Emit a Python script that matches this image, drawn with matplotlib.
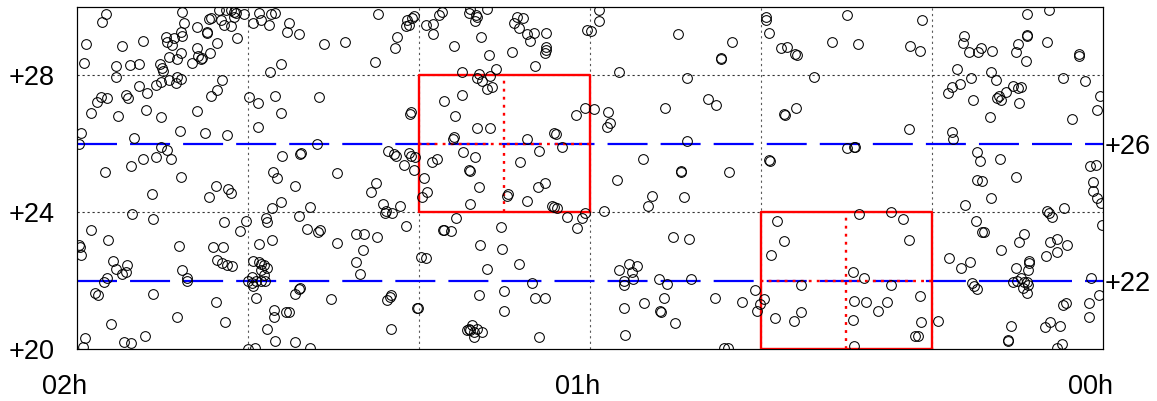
import matplotlib
matplotlib.use('Agg')
import matplotlib.pyplot as plt
import matplotlib.transforms as mtransforms
import numpy as np

## RA in degrees (30 = 02h, 0 = 00h), Dec in degrees
## star positions in strips from left to right
ra_a = [29.15, 29.25, 26.91, 26.86, 29.74, 28.67, 28.05, 27.40, 27.35, 27.16, 27.21, 26.96, 26.91,
        29.80, 28.86, 28.86, 28.44, 28.18, 27.57, 27.50, 27.47, 27.30, 27.06, 26.96, 26.64, 26.47,
        26.46, 26.38, 26.33, 26.18, 26.20, 26.10, 26.47, 26.13, 26.08, 25.89, 25.84, 25.65, 25.50,
        25.40, 25.35, 25.11, 24.84, 24.67, 24.62, 24.38, 24.33, 24.19, 25.77, 25.70, 25.50, 25.40,
        25.31, 23.80, 23.85, 23.51, 22.78, 24.02, 24.35, 25.76, 25.89, 26.07, 28.18, 27.94, 27.69,
        27.55, 27.30, 27.08, 26.96, 27.11, 28.57, 28.50, 29.10, 29.30, 29.40, 29.59, 28.79, 27.96,
        27.53, 26.49, 24.95, 24.70, 24.19, 24.04, 22.92, 29.86, 29.93, 28.32, 26.98, 26.26, 25.62,
        27.53, 27.35, 27.25, 28.05, 27.69, 28.42, 24.70, 22.97, 23.99, 23.48, 23.45, 29.18, 26.96,
        24.26, 24.14]
dec_a = [29.80, 29.57, 29.86, 29.52, 28.91, 28.87, 29.01, 29.13, 28.99, 29.08, 28.89, 29.28, 29.15,
         28.37, 28.28, 27.96, 28.29, 28.32, 28.32, 28.21, 28.13, 28.53, 28.47, 28.65, 28.37, 28.79,
         28.57, 28.47, 28.50, 29.28, 29.23, 28.65, 29.43, 29.64, 29.67, 28.96, 29.91, 29.91, 29.91,
         29.86, 29.83, 29.80, 29.54, 29.83, 29.62, 29.47, 29.80, 29.82, 29.62, 29.47, 29.44, 29.70,
         29.09, 29.54, 29.28, 29.20, 28.92, 28.32, 28.11, 27.87, 27.57, 27.41, 27.69, 27.50, 27.72,
         27.82, 27.87, 27.94, 27.89, 27.77, 27.43, 27.33, 27.33, 27.36, 27.23, 26.89, 26.81, 26.99,
         26.77, 26.95, 27.38, 27.20, 27.41, 26.89, 27.36, 26.31, 25.99, 26.16, 26.37, 26.31, 26.26,
         25.92, 25.82, 25.55, 25.56, 25.60, 25.36, 26.50, 25.99, 25.64, 25.70, 25.72, 25.17, 25.02,
         25.19, 24.99]

ra_b = [25.92, 25.58, 25.48, 26.13, 27.79, 23.62, 24.28, 24.02, 23.17, 23.50, 23.28, 22.95, 22.89,
        28.39, 27.76, 29.57, 29.09, 29.93, 29.86, 29.90, 28.93, 28.86, 28.67, 28.52, 28.57, 29.12,
        29.20, 29.47, 29.38, 28.99, 29.77, 29.83, 28.62, 28.40, 28.01, 27.76, 27.01, 26.91, 26.77,
        26.79, 27.06, 26.01, 25.72, 25.70, 25.24, 25.04, 24.48, 24.45, 24.30, 24.67, 25.91, 25.74,
        25.60, 25.45, 24.84, 24.67, 24.60, 24.53, 24.43, 24.60, 24.53, 24.99, 24.89, 24.84, 24.77,
        24.62, 24.50, 24.87, 24.77, 25.94, 25.67, 24.22, 24.22, 23.87, 23.80, 24.43, 24.19, 24.99,
        24.80, 23.62, 23.18, 23.63, 23.46, 23.50, 22.56]
dec_b = [24.78, 24.68, 24.55, 24.45, 24.52, 24.78, 24.11, 24.29, 24.16, 23.90, 23.51, 23.43, 23.48,
         23.94, 23.80, 23.48, 23.19, 23.04, 22.75, 22.98, 22.57, 22.34, 22.18, 22.46, 22.26, 22.09,
         21.95, 21.63, 21.58, 20.72, 20.31, 20.07, 20.21, 20.17, 20.38, 21.60, 23.01, 22.31, 22.09,
         21.99, 20.95, 22.97, 22.97, 23.72, 23.45, 23.74, 23.82, 23.72, 23.19, 23.06, 22.60, 22.50,
         22.46, 22.44, 22.57, 22.53, 22.48, 22.46, 22.38, 22.31, 22.17, 21.99, 21.92, 21.84, 21.99,
         21.99, 21.99, 22.11, 21.50, 21.38, 20.80, 21.14, 20.95, 21.07, 21.09, 20.58, 20.24, 20.00,
         20.04, 20.21, 20.04, 21.60, 21.77, 21.75, 21.45]

ra_c = [22.39, 22.17, 21.20, 21.29, 20.34, 20.29, 20.36, 20.15, 20.19, 20.65, 20.70, 19.80, 19.58,
        19.58, 19.42, 19.32, 18.98, 18.54, 18.49, 18.34, 18.37, 18.30, 18.00, 18.18, 17.96, 18.75,
        18.25, 18.30, 18.15, 17.91, 17.73, 17.86, 18.00, 17.27, 17.13, 17.22, 16.95, 17.08, 16.85,
        16.74, 16.62, 16.27, 16.27, 16.27, 16.30, 16.59, 15.08, 19.25, 18.75, 20.24, 20.26, 18.95,
        18.30, 17.93, 18.98, 19.00, 18.71, 18.37, 18.54, 18.49, 19.61, 19.48, 20.90, 20.73, 20.68,
        20.44, 20.29, 20.24, 20.10, 20.15, 16.85, 16.49, 17.03, 16.04, 15.98, 15.81, 15.39, 15.15]
dec_c = [25.14, 28.98, 29.79, 28.39, 29.62, 29.47, 29.44, 29.74, 29.67, 29.13, 28.81, 29.47, 29.50,
         29.20, 29.77, 29.86, 28.86, 29.82, 29.93, 29.77, 29.60, 29.72, 29.93, 29.13, 28.60, 28.11,
         28.04, 27.92, 27.85, 27.98, 28.19, 27.65, 27.59, 28.67, 29.70, 29.52, 29.67, 29.38, 29.21,
         29.02, 29.25, 29.25, 28.84, 28.74, 28.65, 28.28, 29.33, 27.26, 27.43, 26.94, 26.86, 26.81,
         26.47, 26.45, 26.21, 26.13, 25.75, 25.60, 25.23, 25.21, 25.48, 25.55, 25.80, 25.70, 25.64,
         25.38, 25.72, 25.64, 25.62, 25.24, 26.13, 25.80, 25.48, 26.33, 26.29, 25.90, 26.84, 27.04]

ra_d = [19.85, 18.25, 17.42, 17.40, 16.85, 16.52, 16.30, 19.76, 19.90, 18.51, 21.24, 21.39, 21.04,
        20.97, 20.78, 21.00, 20.55, 20.36, 18.90, 19.27, 19.30, 19.06, 17.59, 18.20, 17.58, 18.00,
        17.06, 16.11, 16.04, 15.96, 15.67, 15.37, 15.23, 15.13, 22.39, 21.85, 21.61, 21.22, 21.63,
        21.85, 21.72, 19.95, 19.80, 20.94, 20.83, 20.80, 20.05, 20.03, 20.81, 18.25, 17.50, 17.52,
        16.69, 16.59, 16.30, 16.49, 18.54, 18.44, 18.39, 18.50, 18.30, 18.15, 18.40, 18.59]
dec_d = [25.01, 24.73, 24.48, 24.52, 24.33, 24.75, 24.84, 24.60, 24.43, 24.23, 24.84, 24.58, 24.23,
         24.04, 23.97, 23.99, 24.18, 23.60, 23.82, 23.48, 23.48, 23.46, 23.56, 23.04, 22.91, 22.34,
         22.49, 24.19, 24.14, 24.11, 23.87, 23.53, 23.82, 23.97, 23.09, 23.36, 23.36, 23.28, 22.89,
         22.55, 22.18, 22.70, 22.67, 21.43, 21.53, 21.58, 21.21, 21.19, 20.59, 21.58, 21.70, 21.11,
         21.92, 21.50, 21.50, 20.36, 20.59, 20.70, 20.51, 20.56, 20.59, 20.51, 20.34, 20.56]

ra_e = [14.74, 14.74, 14.98, 12.42, 10.85, 11.16, 11.16, 14.16, 12.16, 9.84, 9.84, 9.75, 9.41,
        9.24, 8.99, 8.95, 7.92, 7.47, 8.46, 14.87, 14.47, 14.40, 14.50, 12.79, 11.56, 11.30,
        9.32, 9.30, 8.97, 12.16, 13.45, 12.34, 12.33, 10.94, 9.76, 9.74, 7.47]
dec_e = [29.91, 29.59, 29.31, 29.20, 28.97, 28.50, 28.47, 28.09, 27.91, 29.70, 29.62, 29.23, 28.79,
         28.82, 28.63, 28.60, 28.99, 29.77, 27.94, 27.01, 26.94, 26.60, 26.48, 27.04, 27.30, 27.13,
         26.86, 26.84, 27.04, 26.09, 25.55, 25.21, 25.19, 25.19, 25.53, 25.51, 25.87]

ra_f = [14.21, 13.18, 13.31, 12.26, 14.58, 12.57, 12.11, 14.16, 13.86, 13.62, 13.77, 14.01, 14.01,
        13.74, 12.99, 12.74, 12.03, 12.82, 13.41, 13.99, 12.96, 12.92, 12.50, 13.96, 11.33, 10.55,
        10.16, 9.92, 10.02, 10.12, 11.09, 10.96, 9.53, 9.32, 9.71, 8.83, 9.58, 9.04, 8.83]
dec_f = [24.94, 24.48, 24.18, 24.43, 24.04, 23.28, 23.21, 22.31, 22.48, 22.44, 22.26, 21.99, 21.87,
         22.05, 22.05, 21.89, 22.05, 21.50, 21.35, 21.21, 21.11, 21.07, 20.75, 20.41, 21.48, 21.38,
         21.73, 21.46, 21.33, 21.11, 20.02, 20.02, 23.75, 23.16, 22.75, 21.87, 20.90, 20.82, 21.09]

ra_g = [7.17, 7.29, 7.24, 5.29, 5.65, 5.36, 5.68, 4.42, 4.37, 3.69, 3.59, 3.02, 4.06, 4.10, 3.93,
        3.64, 3.56, 3.25, 4.27, 3.86, 4.42, 4.54, 4.19, 3.80, 3.27, 3.12, 3.10, 3.03, 2.99, 2.83,
        2.64, 2.47, 2.40, 2.44, 3.30, 2.23, 2.21, 2.21, 2.47, 2.55, 2.25, 1.57, 1.64, 0.69, 0.69,
        1.16, 0.52, 0.10, 0.16, 0.91, 0.38, 0.20]
dec_g = [28.91, 25.92, 25.92, 29.62, 28.87, 28.71, 26.42, 26.34, 26.13, 25.77, 25.51, 25.55, 29.15,
         28.94, 28.69, 28.69, 28.79, 28.72, 28.19, 27.91, 27.65, 27.48, 27.74, 27.28, 28.09, 27.87,
         27.33, 27.40, 27.28, 27.52, 27.69, 27.62, 27.65, 27.18, 26.77, 29.80, 29.18, 29.15, 28.91,
         28.69, 28.43, 29.91, 28.99, 28.62, 28.58, 27.93, 27.85, 27.41, 26.99, 26.74, 25.35, 25.38]

ra_h = [3.69, 3.54, 2.54, 3.28, 4.03, 0.28, 0.28, 0.16, 0.06, 0.04, 1.64, 1.59, 1.50, 1.14, 3.71,
        3.54, 3.49, 2.32, 2.44, 2.99, 1.56, 1.35, 1.06, 1.35, 1.66, 4.51, 3.90, 4.16, 2.15, 2.15,
        2.18, 2.54, 3.83, 3.77, 3.69, 2.62, 2.52, 2.32, 2.23, 2.18, 2.34, 2.23, 2.40, 0.36, 0.13,
        0.42, 0.40, 1.16, 1.08, 4.83, 2.69, 2.79, 2.77, 1.69, 1.56, 1.27, 1.35, 1.20, 7.14, 6.20,
        5.85, 5.68, 7.31, 6.98, 6.20, 7.29, 6.92, 6.30, 6.59, 5.36, 7.31, 5.32, 5.49, 5.42, 7.29]
dec_h = [24.94, 24.91, 25.04, 24.42, 24.21, 24.87, 24.62, 24.41, 24.26, 23.63, 24.04, 23.97, 23.87,
         24.11, 23.74, 23.43, 23.43, 23.35, 23.14, 22.89, 23.14, 23.21, 23.04, 22.84, 22.72, 22.67,
         22.53, 22.38, 22.57, 22.50, 22.31, 22.36, 21.92, 21.85, 21.75, 21.97, 21.99, 21.97, 21.95,
         21.87, 21.77, 21.63, 22.07, 22.09, 21.58, 21.34, 20.95, 21.29, 21.34, 20.82, 20.68, 20.23,
         20.25, 20.65, 20.78, 20.68, 20.04, 20.16, 23.94, 24.00, 23.79, 23.19, 22.24, 22.07, 21.87,
         21.40, 21.38, 21.38, 21.11, 21.56, 20.85, 20.80, 20.39, 20.39, 20.10]

## survey fields: (ra_min, ra_max, dec_min, dec_max)
fields = [(15, 20, 24, 28), (5, 10, 20, 24)]
dec_strips = [22, 26]
grid_ra = [5, 10, 15, 20, 25]
grid_dec = [24, 28]
xtick_pos = [30, 15, 0]
xtick_lab = ['02h', '01h', '00h']
ytick_left = [20, 24, 28]
ytick_right = [22, 26]

ra = np.concatenate([ra_a, ra_b, ra_c, ra_d, ra_e, ra_f, ra_g, ra_h])
dec = np.concatenate([dec_a, dec_b, dec_c, dec_d, dec_e, dec_f, dec_g, dec_h])

plt.rcParams['font.family'] = ['Liberation Sans', 'DejaVu Sans']
fs = 19.5

fig = plt.figure(figsize=(11.57, 4.01), dpi=100)
ax = fig.add_axes([0.0663, 0.1297, 0.8870, 0.8528])

## dotted grid
for g in grid_ra:
    ax.axvline(g, color='0.35', lw=0.8, ls=(0, (2, 3)), zorder=1)
for g in grid_dec:
    ax.axhline(g, color='0.2', lw=0.8, ls=(0, (2, 2.5)), zorder=1)

## blue dashed strips
lw_b = 1.6
for d in dec_strips:
    ax.axhline(d, color='blue', lw=lw_b, dashes=(28.8 / lw_b, 9.4 / lw_b), zorder=2)

## red boxes with dotted centre cross
lw_r = 1.7
for (r0, r1, d0, d1) in fields:
    ax.plot([r0, r1, r1, r0, r0], [d0, d0, d1, d1, d0], color='red', lw=lw_r, zorder=3)
    ax.plot([(r0 + r1) / 2] * 2, [d0, d1], color='red', lw=lw_r, ls=(0, (1.2, 2.2)), zorder=3)
    ax.plot([r0, r1], [(d0 + d1) / 2] * 2, color='red', lw=lw_r, ls=(0, (1.2, 2.2)), zorder=3)

ax.plot(ra, dec, 'o', ms=7, mfc='none', mec='black', mew=0.75, zorder=4)

ax.set_xlim(30, 0)
ax.set_ylim(20, 30)

ax.set_xticks(xtick_pos)
ax.set_xticklabels(xtick_lab, fontsize=fs)
ax.tick_params(axis='x', length=0, pad=18)
shift = mtransforms.ScaledTranslation(-0.12, 0, fig.dpi_scale_trans)
for lab in ax.get_xticklabels():
    lab.set_transform(lab.get_transform() + shift)

ax.set_yticks(ytick_left)
ax.set_yticklabels(['+%d' % v for v in ytick_left], fontsize=fs)
ax.tick_params(axis='y', length=0, pad=16)

ax2 = ax.twinx()
ax2.set_ylim(20, 30)
ax2.set_yticks(ytick_right)
ax2.set_yticklabels(['+%d' % v for v in ytick_right], fontsize=fs)
ax2.tick_params(axis='y', length=0, pad=1)

for a in (ax, ax2):
    for s in a.spines.values():
        s.set_linewidth(0.8)

fig.savefig('out.png', dpi=100)
